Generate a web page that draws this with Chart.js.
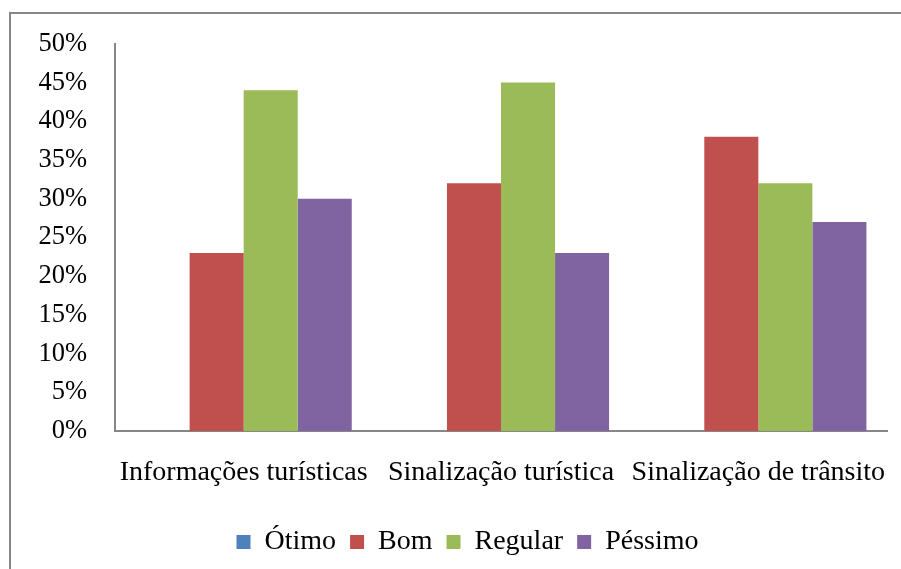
<!DOCTYPE html>
<html>
<head>
<meta charset="utf-8">
<script src="https://cdn.jsdelivr.net/npm/chart.js@4"></script>
<style>
  html, body { margin: 0; padding: 0; background: #fff; }
  #wrap { width: 901px; height: 569px; position: relative; }
</style>
</head>
<body>
<div id="wrap"><canvas id="chartAvaliacao"></canvas></div>
<script>
const categories = ['Informações turísticas', 'Sinalização turística', 'Sinalização de trânsito'];
const otimo = [0, 0, 0];
const bom = [23, 32, 38];
const regular = [44, 45, 32];
const pessimo = [30, 23, 27];
const yTicks = [0, 5, 10, 15, 20, 25, 30, 35, 40, 45, 50];

const serif = "'Liberation Serif', 'Times New Roman', serif";

// outer frame of the chart object (runs off the right and bottom edges)
const framePlugin = {
  id: 'frame',
  beforeDraw(chart) {
    const ctx = chart.ctx;
    ctx.save();
    ctx.strokeStyle = '#878787';
    ctx.lineWidth = 2;
    ctx.strokeRect(10, 13, 1000, 1000);
    ctx.restore();
  }
};

// legend in the original sits a bit right of the canvas centre
const legendShift = {
  id: 'legendShift',
  afterLayout(chart) {
    const lg = chart.legend;
    if (!lg) return;
    lg.left += 18;
    lg.right += 18;
  }
};

document.addEventListener('DOMContentLoaded', () => {
  const canvas = document.getElementById('chartAvaliacao');
  new Chart(canvas, {
    type: 'bar',
    data: {
      labels: categories,
      datasets: [
        { label: 'Ótimo', data: otimo, backgroundColor: '#4F81BD' },
        { label: 'Bom', data: bom, backgroundColor: '#C0504D' },
        { label: 'Regular', data: regular, backgroundColor: '#9BBB59' },
        { label: 'Péssimo', data: pessimo, backgroundColor: '#8064A2' }
      ]
    },
    options: {
      responsive: true,
      maintainAspectRatio: false,
      animation: false,
      datasets: {
        bar: { categoryPercentage: 0.84, barPercentage: 1.0 }
      },
      layout: { padding: { top: 43, right: 14, bottom: 3, left: 12 } },
      plugins: {
        tooltip: { enabled: false },
        legend: {
          position: 'bottom',
          labels: {
            boxWidth: 14,
            boxHeight: 14,
            padding: 14,
            color: '#000',
            font: { family: serif, size: 28 }
          }
        }
      },
      scales: {
        x: {
          afterFit(scale) {
            scale.height = 83;
            scale.paddingLeft = 0;
            scale.paddingRight = 0;
          },
          grid: { display: false, drawTicks: false },
          border: { color: '#878787', width: 2 },
          ticks: { color: '#000', padding: 25, maxRotation: 0, autoSkip: false, font: { family: serif, size: 28 } }
        },
        y: {
          min: 0,
          max: 50,
          afterFit(scale) { scale.width = 103; },
          afterBuildTicks(scale) { scale.ticks = yTicks.map(v => ({ value: v })); },
          grid: { display: false, drawTicks: false },
          border: { color: '#878787', width: 2 },
          ticks: {
            color: '#000',
            padding: 28,
            font: { family: serif, size: 26.5 },
            callback: v => v + '%'
          }
        }
      }
    },
    plugins: [framePlugin, legendShift]
  });
});
</script>
</body>
</html>
